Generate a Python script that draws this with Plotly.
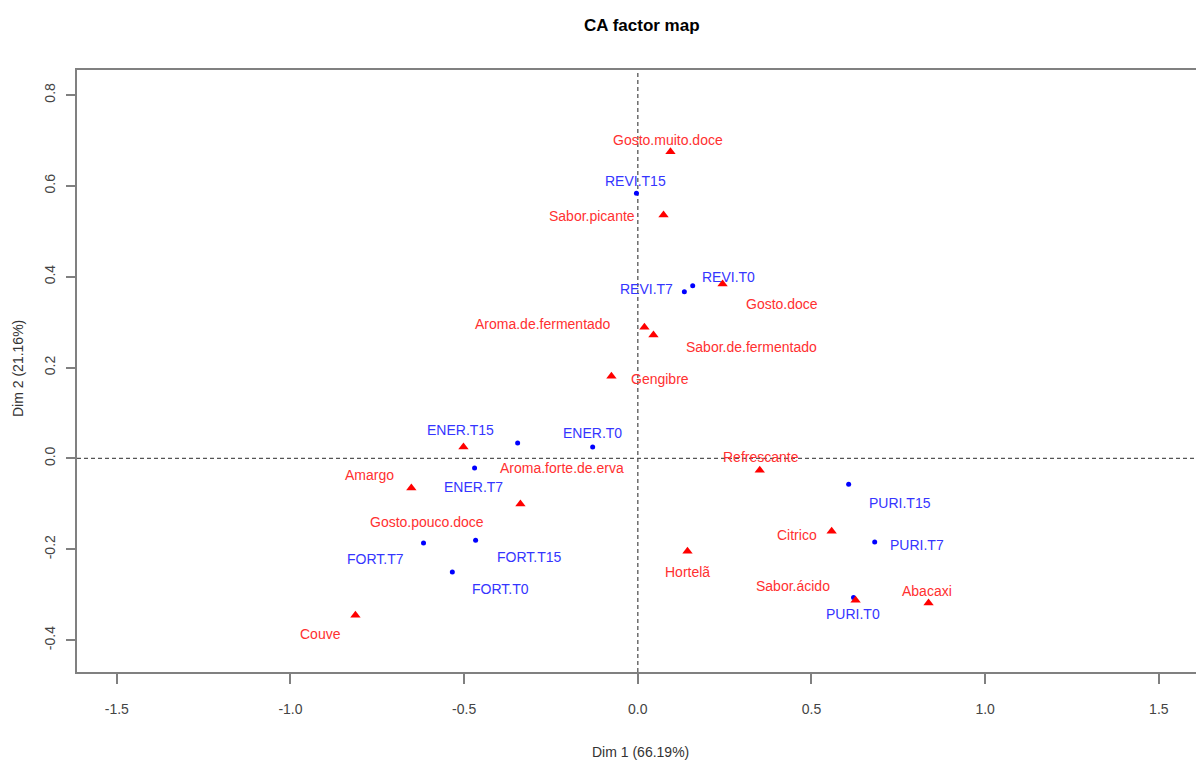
import plotly.graph_objects as go

# Row points (samples)
row_names = ["REVI.T15", "REVI.T7", "REVI.T0", "ENER.T15", "ENER.T0", "ENER.T7",
             "FORT.T7", "FORT.T15", "FORT.T0", "PURI.T15", "PURI.T7", "PURI.T0"]
row_dim1 = [-0.004, 0.134, 0.158, -0.346, -0.130, -0.470,
            -0.617, -0.467, -0.534, 0.607, 0.682, 0.621]
row_dim2 = [0.584, 0.367, 0.380, 0.034, 0.025, -0.021,
            -0.186, -0.180, -0.250, -0.057, -0.184, -0.306]

# Column points (attributes)
col_names = ["Gosto.muito.doce", "Sabor.picante", "Gosto.doce", "Aroma.de.fermentado",
             "Sabor.de.fermentado", "Gengibre", "Gosto.pouco.doce", "Amargo",
             "Aroma.forte.de.erva", "Couve", "Refrescante", "Citrico", "Hortelã",
             "Sabor.ácido", "Abacaxi"]
col_dim1 = [0.094, 0.074, 0.244, 0.019, 0.045, -0.076, -0.502, -0.652,
            -0.338, -0.813, 0.351, 0.558, 0.143, 0.627, 0.837]
col_dim2 = [0.675, 0.536, 0.384, 0.289, 0.272, 0.181, 0.025, -0.065,
            -0.100, -0.345, -0.026, -0.160, -0.204, -0.312, -0.318]

x_ticks = [-1.5, -1.0, -0.5, 0.0, 0.5, 1.0, 1.5]
y_ticks = [-0.4, -0.2, 0.0, 0.2, 0.4, 0.6, 0.8]

# Label offsets from each point, in pixels (dx right, dy down)
row_label_offsets = [(-1, -12), (-38, -3), (36, -9), (-57, -13), (0, -14), (-1, 19),
                     (-48, 16), (54, 17), (48, 17), (51, 19), (42, 3), (-1, 17)]
col_label_offsets = [(-2, -12), (-72, 1), (59, 20), (-101, -3), (98, 12), (49, 3),
                     (-36, 75), (-42, -13), (42, -36), (-35, 19), (1, -13), (-35, 4),
                     (0, 21), (-63, -14), (-2, -12)]

FONT = "Liberation Sans, Arial, sans-serif"
ROW_COLOR = "#0000ff"
COL_COLOR = "#ff0000"
ROW_TEXT = "#3535ff"
COL_TEXT = "#ff3030"

# Plot-area pixel geometry
LEFT, RIGHT, TOP, BOTTOM = 77, 0, 70, 88
W, H = 1196, 760
PW = W - LEFT - RIGHT
PH = H - TOP - BOTTOM

fig = go.Figure()
fig.add_trace(go.Scatter(x=row_dim1, y=row_dim2, mode="markers",
                         marker=dict(symbol="circle", size=5, color=ROW_COLOR),
                         hovertext=row_names, showlegend=False))
fig.add_trace(go.Scatter(x=col_dim1, y=col_dim2, mode="markers",
                         marker=dict(symbol="triangle-up", size=9, color=COL_COLOR),
                         hovertext=col_names, showlegend=False))

annotations = []
for name, x, y, (dx, dy) in zip(row_names, row_dim1, row_dim2, row_label_offsets):
    annotations.append(dict(x=x, y=y, xref="x", yref="y", text=name, showarrow=False,
                            xshift=dx, yshift=-dy, xanchor="center", yanchor="middle",
                            font=dict(family=FONT, size=14, color=ROW_TEXT)))
for name, x, y, (dx, dy) in zip(col_names, col_dim1, col_dim2, col_label_offsets):
    annotations.append(dict(x=x, y=y, xref="x", yref="y", text=name, showarrow=False,
                            xshift=dx, yshift=-dy, xanchor="center", yanchor="middle",
                            font=dict(family=FONT, size=14, color=COL_TEXT)))

# Title and axis titles
annotations.append(dict(x=(642 - LEFT) / PW, y=1, xref="paper", yref="paper",
                        yshift=45, xanchor="center", yanchor="middle",
                        text="<b>CA factor map</b>", showarrow=False,
                        font=dict(family=FONT, size=17, color="#000000")))
annotations.append(dict(x=(640 - LEFT) / PW, y=0, xref="paper", yref="paper",
                        yshift=-80, xanchor="center", yanchor="middle",
                        text="Dim 1 (66.19%)", showarrow=False,
                        font=dict(family=FONT, size=14, color="#333333")))
annotations.append(dict(x=0, y=(H - BOTTOM - 369) / PH, xref="paper", yref="paper",
                        xshift=-59, xanchor="center", yanchor="middle",
                        text="Dim 2 (21.16%)", showarrow=False, textangle=-90,
                        font=dict(family=FONT, size=14, color="#333333")))

# Dashed reference lines through the origin
shapes = [
    dict(type="line", xref="x", yref="paper", x0=0, x1=0, y0=0, y1=1,
         line=dict(color="#555555", width=1.3, dash="4px,3px"), layer="below"),
    dict(type="line", xref="paper", yref="y", x0=0, x1=1, y0=0, y1=0,
         line=dict(color="#555555", width=1.3, dash="4px,3px"), layer="below"),
]

fig.update_xaxes(range=[-1.6146, 1.607], tickvals=x_ticks,
                 ticktext=[f"{v:.1f}" for v in x_ticks],
                 showgrid=False, zeroline=False, showline=True, mirror=True,
                 linecolor="#808080", linewidth=2, ticks="outside", ticklen=10,
                 tickwidth=1.5, tickcolor="#808080", ticklabelstandoff=13,
                 tickfont=dict(family=FONT, size=14, color="#444444"))
fig.update_yaxes(range=[-0.470, 0.855], tickvals=y_ticks,
                 ticktext=[f"{v:.1f}" for v in y_ticks],
                 showgrid=False, zeroline=False, showline=True, mirror=False,
                 linecolor="#808080", linewidth=2, ticks="outside", ticklen=9,
                 tickwidth=1.5, tickcolor="#808080", tickangle=-90,
                 ticklabelstandoff=5,
                 tickfont=dict(family=FONT, size=14, color="#444444"))

fig.update_layout(width=W, height=H,
                  margin=dict(l=LEFT, r=RIGHT, t=TOP, b=BOTTOM),
                  plot_bgcolor="white", paper_bgcolor="white",
                  font=dict(family=FONT), showlegend=False,
                  annotations=annotations, shapes=shapes)

fig.write_html("out.html")
